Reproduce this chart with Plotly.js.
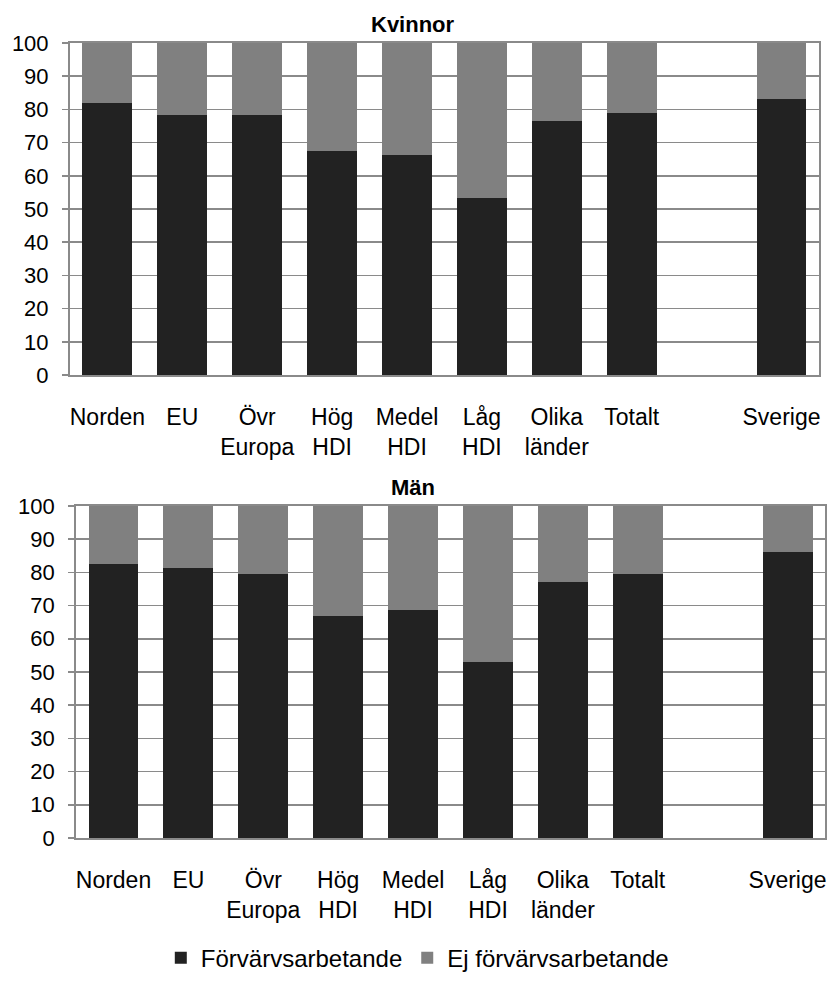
<!DOCTYPE html>
<html>
<head>
<meta charset="utf-8">
<script src="https://cdn.plot.ly/plotly-3.0.1.min.js"></script>
<style>html,body{margin:0;padding:0;background:#fff;}#chart{width:832px;height:988px;}</style>
</head>
<body>
<div id="chart"></div>
<script>
// Categories (blank slot between Totalt and Sverige)
const categories = ['Norden', 'EU', 'Övr<br>Europa', 'Hög<br>HDI', 'Medel<br>HDI', 'Låg<br>HDI', 'Olika<br>länder', 'Totalt', ' ', 'Sverige'];

// Kvinnor
const kvinnorArbetande = [81.9, 78.2, 78.2, 67.5, 66.4, 53.3, 76.5, 78.9, null, 83.0];
const kvinnorEjArbetande = [18.1, 21.8, 21.8, 32.5, 33.6, 46.7, 23.5, 21.1, null, 17.0];

// Män
const manArbetande = [82.5, 81.3, 79.5, 67.0, 68.7, 53.1, 77.1, 79.5, null, 86.1];
const manEjArbetande = [17.5, 18.7, 20.5, 33.0, 31.3, 46.9, 22.9, 20.5, null, 13.9];

const seriesNames = ['Förvärvsarbetande', 'Ej förvärvsarbetande'];
const panelTitles = ['Kvinnor', 'Män'];
const yTicks = [0, 10, 20, 30, 40, 50, 60, 70, 80, 90, 100];

const dark = '#222222', light = '#808080', grid = '#8a8a8a';
const fontFam = 'Liberation Sans, Arial, sans-serif';

const traces = [
  {type: 'bar', x: categories, y: kvinnorArbetande, name: seriesNames[0], marker: {color: dark}, xaxis: 'x', yaxis: 'y', showlegend: false, legendgroup: 'a'},
  {type: 'bar', x: categories, y: kvinnorEjArbetande, name: seriesNames[1], marker: {color: light}, xaxis: 'x', yaxis: 'y', showlegend: false, legendgroup: 'b'},
  {type: 'bar', x: categories, y: manArbetande, name: seriesNames[0], marker: {color: dark}, xaxis: 'x2', yaxis: 'y2', legendgroup: 'a'},
  {type: 'bar', x: categories, y: manEjArbetande, name: seriesNames[1], marker: {color: light}, xaxis: 'x2', yaxis: 'y2', legendgroup: 'b'}
];

function xAx(domain, anchor) {
  return {
    domain: domain, anchor: anchor, type: 'category',
    categoryorder: 'array', categoryarray: categories,
    range: [-0.5, categories.length - 0.5],
    showline: true, linecolor: grid, linewidth: 2, mirror: true,
    showgrid: false, ticks: '', ticklabelstandoff: 20,
    tickfont: {family: fontFam, size: 23, color: '#000'},
    fixedrange: true
  };
}
function yAx(domain, anchor) {
  return {
    domain: domain, anchor: anchor, range: [0, 100],
    tickvals: yTicks, ticktext: yTicks.map(String),
    showline: true, linecolor: grid, linewidth: 2, mirror: true,
    showgrid: true, gridcolor: grid, gridwidth: 1.5, zeroline: false,
    ticks: 'outside', ticklen: 6, tickcolor: grid, tickwidth: 1.5,
    ticklabelstandoff: 9,
    tickfont: {family: fontFam, size: 22, color: '#000'},
    fixedrange: true
  };
}

const layout = {
  width: 832, height: 988,
  margin: {l: 70, r: 7, t: 43, b: 143},
  paper_bgcolor: '#fff', plot_bgcolor: '#fff',
  barmode: 'stack', bargap: 0.333,
  font: {family: fontFam, color: '#000'},
  xaxis: xAx([0, 0.992], 'y'),
  yaxis: yAx([0.5823, 1], 'x'),
  xaxis2: xAx([0.008, 1], 'y2'),
  yaxis2: yAx([0, 0.4177], 'x2'),
  showlegend: true,
  legend: {orientation: 'h', x: 0.46, xanchor: 'center', y: -0.151, yanchor: 'middle',
           font: {family: fontFam, size: 24, color: '#000'}, itemwidth: 30, traceorder: 'normal'},
  annotations: [
    {text: '<b>' + panelTitles[0] + '</b>', xref: 'paper', yref: 'paper', x: 0.4545, y: 1.0, yanchor: 'bottom', yshift: 4, showarrow: false, font: {family: fontFam, size: 22, color: '#000'}},
    {text: '<b>' + panelTitles[1] + '</b>', xref: 'paper', yref: 'paper', x: 0.4545, y: 0.4177, yanchor: 'bottom', yshift: 4, showarrow: false, font: {family: fontFam, size: 22, color: '#000'}}
  ]
};

Plotly.newPlot('chart', traces, layout, {displayModeBar: false, staticPlot: true});
</script>
</body>
</html>
